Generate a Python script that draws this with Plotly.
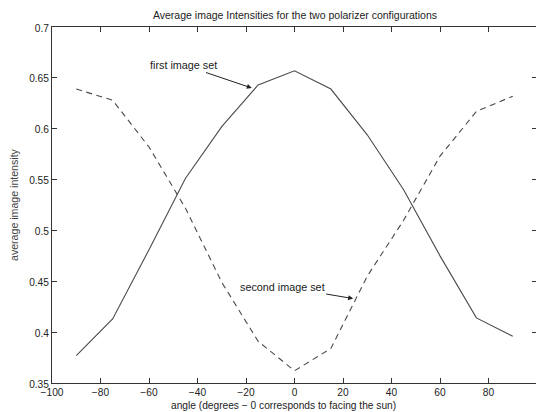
import plotly.graph_objects as go

angles = [-90, -75, -60, -45, -30, -15, 0, 15, 30, 45, 60, 75, 90]
first_set = [0.377, 0.413, 0.481, 0.551, 0.602, 0.643, 0.657, 0.639, 0.594, 0.540, 0.475, 0.414, 0.396]
second_set = [0.639, 0.628, 0.582, 0.522, 0.449, 0.391, 0.362, 0.384, 0.455, 0.510, 0.573, 0.617, 0.632]

x_ticks = [-100, -80, -60, -40, -20, 0, 20, 40, 60, 80, 100]
y_ticks = [0.35, 0.4, 0.45, 0.5, 0.55, 0.6, 0.65, 0.7]
y_tick_labels = ["0.35", "0.4", "0.45", "0.5", "0.55", "0.6", "0.65", "0.7"]

title_text = "Average image Intensities for the two polarizer configurations"
x_label = "angle (degrees \u2212 0 corresponds to facing the sun)"
y_label = "average image intensity"

FONT = "Liberation Sans, Arial, sans-serif"
LINE = "#4a4a4a"
AX = "#333333"

# the page body has an 8px default margin; compensate so the chart lands where the reference has it
OFF = 8
W, H = 544 - OFF, 412 - OFF
L, R, T, B = 52 - OFF, 7, 27 - OFF, 29
PW, PH = W - L - R, H - T - B


def px_x(page_x):
    return (page_x - OFF - L) / PW


def px_y(page_y):
    return (T + PH - (page_y - OFF)) / PH


fig = go.Figure()
fig.add_trace(go.Scatter(x=angles, y=first_set, mode="lines",
                         line=dict(color=LINE, width=1.1), name="first image set"))
fig.add_trace(go.Scatter(x=angles, y=second_set, mode="lines",
                         line=dict(color=LINE, width=1.1, dash="6px,4.5px"), name="second image set"))

axis_common = dict(showgrid=False, zeroline=False, showline=True, linecolor=AX, linewidth=1,
                   mirror="ticks", ticks="inside", ticklen=5, tickcolor=AX, tickwidth=1,
                   tickfont=dict(family=FONT, size=10.2, color="#222"))

fig.update_xaxes(range=[-100, 100], tickvals=x_ticks, ticklabelstandoff=0, **axis_common)
fig.update_yaxes(range=[0.35, 0.7], tickvals=y_ticks, ticktext=y_tick_labels, ticklabelshift=1,
                 **axis_common)

# axis titles placed as paper annotations
fig.add_annotation(xref="paper", yref="paper", x=px_x(283), y=px_y(405),
                   text=x_label, showarrow=False, xanchor="center", yanchor="middle",
                   font=dict(family=FONT, size=10.2, color="#222"))
fig.add_annotation(xref="paper", yref="paper", x=px_x(14), y=px_y(205),
                   text=y_label, showarrow=False, textangle=-90, xanchor="center", yanchor="middle",
                   font=dict(family=FONT, size=10.6, color="#444"))

fig.add_annotation(x=-17.6, y=0.640, text="first image set", showarrow=True,
                   ax=-68, ay=-23, arrowhead=2, arrowsize=1, arrowwidth=1, arrowcolor="#222",
                   font=dict(family=FONT, size=10.8, color="#222"))
fig.add_annotation(x=24.2, y=0.433, text="second image set", showarrow=True,
                   ax=-71, ay=-12, arrowhead=2, arrowsize=1, arrowwidth=1, arrowcolor="#222",
                   font=dict(family=FONT, size=10.8, color="#222"))

fig.update_layout(
    width=W, height=H,
    margin=dict(l=L, r=R, t=T, b=B),
    paper_bgcolor="white", plot_bgcolor="white",
    showlegend=False,
    title=dict(text=title_text, x=(295 - OFF) / W, xanchor="center", y=1 - (15 - OFF) / H, yanchor="middle",
               font=dict(family=FONT, size=10.5, color="#222")),
)

fig.write_html("out.html")
